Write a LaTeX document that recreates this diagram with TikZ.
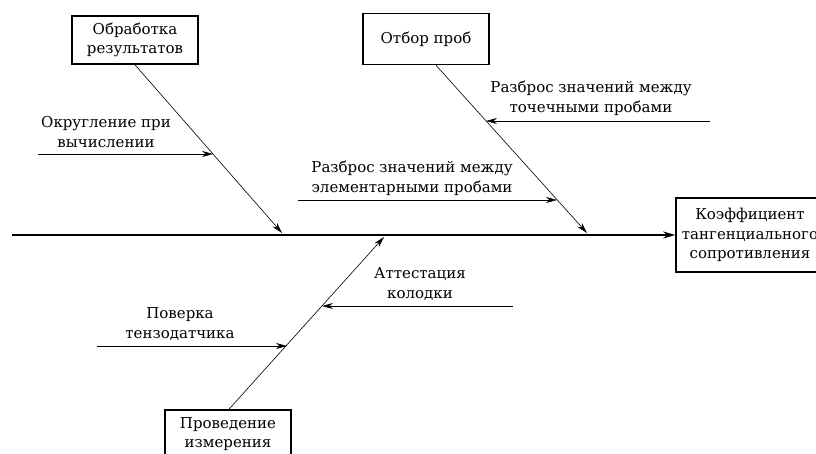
\documentclass[tikz,border=0pt]{standalone}
\usepackage{fontspec}
\setmainfont{DejaVu Serif}
\usetikzlibrary{positioning, arrows.meta, calc}

\begin{document}
\begin{tikzpicture}[
  x=1pt, y=-1pt,
  font=\fontsize{15pt}{19.5pt}\selectfont,
  cause/.style={draw, line width=1.6pt, minimum width=126pt,
                minimum height=48pt, align=center, inner sep=2pt},
  label/.style={align=center, inner sep=0pt},
  bone/.style={-{Stealth[length=11pt, width=6pt]}, line width=0.6pt},
  spine/.style={-{Stealth[length=12pt, width=7pt]}, line width=1.8pt}
]
\useasboundingbox (0,0) rectangle (816,453);
\clip (0,0) rectangle (816,453);

% boxes
\node[cause] (obr) at (135,40) {Обработка\\результатов};
\node[cause, minimum height=51pt] (otb) at (426,39) {Отбор проб};
\node[cause, minimum width=148pt, minimum height=74pt] (eff) at (750,235)
  {Коэффициент\\тангенциального\\сопротивления};
\node[cause] (prov) at (228,434) {Проведение\\измерения};

% spine
\coordinate (sp0) at (12,235);
\draw[spine] (sp0) -- (eff.west);

% main bones
\coordinate (j1) at (282,233);
\coordinate (j2) at (587,233);
\coordinate (j3) at (384,237);
\draw[bone] (obr.south) -- (j1);
\draw[bone] ($(otb.south)+(10,0)$) -- (j2);
\draw[bone] ($(prov.north)+(1,0)$) -- (j3);

% minor causes
\coordinate (okr0) at (38,154);   \coordinate (okr1) at (213,154);
\coordinate (toch0) at (710,121); \coordinate (toch1) at (486,121);
\coordinate (elem0) at (298,200); \coordinate (elem1) at (557,200);
\coordinate (pov0) at (97,346);   \coordinate (pov1) at (287,346);
\coordinate (att0) at (513,306);  \coordinate (att1) at (322,306);
\draw[bone] (okr0) -- (okr1);
\draw[bone] (toch0) -- (toch1);
\draw[bone] (elem0) -- (elem1);
\draw[bone] (pov0) -- (pov1);
\draw[bone] (att0) -- (att1);

\node[label] (okr) at (106,132) {Округление при\\вычислении};
\node[label] (toch) at (591,98) {Разброс значений между\\точечными пробами};
\node[label] (elem) at (412,178) {Разброс значений между\\элементарными пробами};
\node[label] (pov) at (180,324) {Поверка\\тензодатчика};
\node[label] (att) at (420,284) {Аттестация\\колодки};
\end{tikzpicture}
\end{document}
